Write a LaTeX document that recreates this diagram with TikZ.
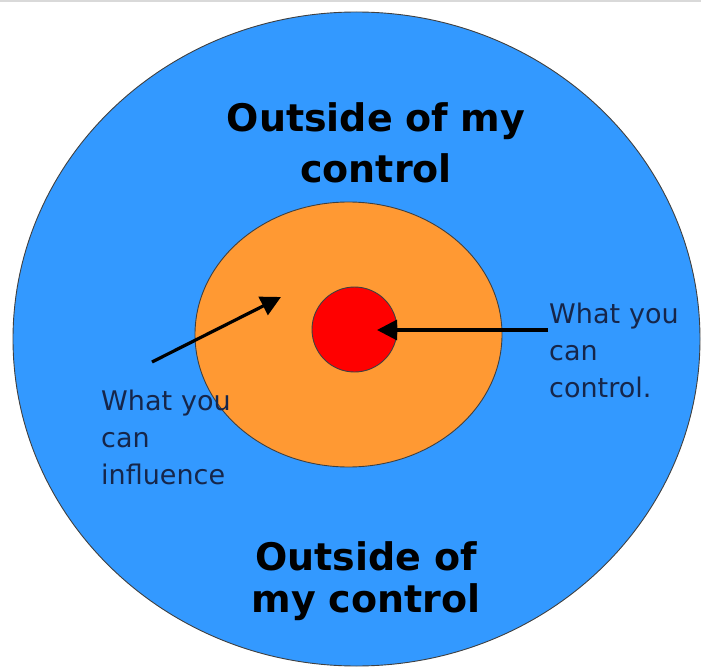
\documentclass[tikz,border=0pt]{standalone}
\usepackage{fontspec}
\setmainfont{DejaVu Sans}
\usetikzlibrary{arrows.meta,shapes.geometric}
\definecolor{outerblue}{HTML}{3399FF}
\definecolor{midorange}{HTML}{FF9933}
\definecolor{innerred}{HTML}{FF0000}
\definecolor{edgegray}{HTML}{404040}
\definecolor{labelnavy}{HTML}{16264A}
\begin{document}
\begin{tikzpicture}[x=1pt,y=-1pt,
  ring/.style={draw=edgegray,line width=0.9pt},
  title/.style={font=\bfseries\fontsize{38}{51}\selectfont,text=black,align=center,text width=360pt,inner sep=0pt,anchor=base},
  label/.style={font=\fontsize{27}{37}\selectfont,text=labelnavy,align=left,text width=150pt,inner sep=0pt,anchor=base west},
  pointer/.style={line width=3.2pt,draw=black,-{Triangle[length=20pt,width=20pt]}}]
\useasboundingbox (0,0) rectangle (701,668);
\fill[white] (0,0) rectangle (701,668);
\draw[gray!30,line width=2pt] (0,1) -- (701,1);
\node[ring,fill=outerblue,ellipse,minimum width=687pt,minimum height=654pt,inner sep=0pt] (outer) at (356.5,339) {};
\node[ring,fill=midorange,ellipse,minimum width=307pt,minimum height=265pt,inner sep=0pt] (mid) at (348.5,334.5) {};
\node[ring,fill=innerred,circle,minimum size=85pt,inner sep=0pt] (inner) at (354.5,329.5) {};
\node[title] (toptitle) at (376,132) {Outside of my\\control};
\node[title,font=\bfseries\fontsize{38}{42}\selectfont] (bottitle) at (366,570) {Outside of\\my control};
\node[label] (influence) at (101,410) {What you\\can\\influence};
\node[label] (control) at (549,323) {What you\\can\\control.};
\coordinate (infstart) at (152,362);
\coordinate (inftip) at (281,297);
\coordinate (ctrlstart) at (548,330);
\coordinate (ctrltip) at (377,330);
\draw[pointer] (infstart) -- (inftip);
\draw[pointer] (ctrlstart) -- (ctrltip);
\end{tikzpicture}
\end{document}
